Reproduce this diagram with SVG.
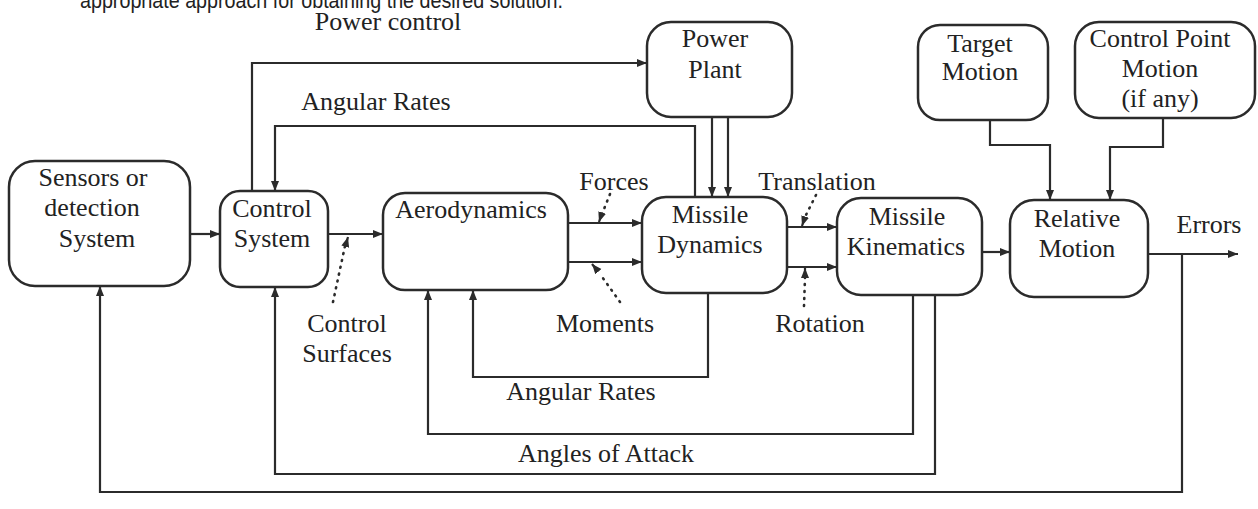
<svg xmlns="http://www.w3.org/2000/svg" width="1258" height="509" viewBox="0 0 1258 509">
<style>
.box{fill:none;stroke:#2b2b2b;stroke-width:2.5}
.ln{fill:none;stroke:#2b2b2b;stroke-width:2.2}
.dot{fill:none;stroke:#2b2b2b;stroke-width:2.6;stroke-dasharray:1 6;stroke-linecap:round}
text{font-family:"Liberation Serif","Times New Roman",serif;font-size:26px;fill:#222;text-anchor:middle}
.top{font-family:"Liberation Sans",Arial,sans-serif;font-size:22px;text-anchor:start}
</style>
<defs>
<marker id="ah" viewBox="0 0 10 10" refX="10" refY="5" markerWidth="10" markerHeight="10" markerUnits="userSpaceOnUse" orient="auto">
<path d="M0,1 L10,5 L0,9 z" fill="#2b2b2b"/>
</marker>
</defs>
<rect width="1258" height="509" fill="#fff"/>
<text class="top" x="80" y="8" textLength="483" lengthAdjust="spacingAndGlyphs">appropriate approach for obtaining the desired solution.</text>

<g id="sensors"><rect class="box" x="9" y="161" width="181" height="125" rx="26"/>
<text x="93" y="186">Sensors or</text><text x="92" y="216">detection</text><text x="97" y="247">System</text></g>
<g id="control"><rect class="box" x="220" y="191" width="108" height="96" rx="20"/>
<text x="272" y="217">Control</text><text x="272" y="247">System</text></g>
<g id="aero"><rect class="box" x="383" y="193" width="185" height="97" rx="22"/>
<text x="471" y="218">Aerodynamics</text></g>
<g id="dynamics"><rect class="box" x="642" y="197" width="145" height="96" rx="24"/>
<text x="710" y="223">Missile</text><text x="710" y="253">Dynamics</text></g>
<g id="kinematics"><rect class="box" x="837" y="198" width="145" height="97" rx="24"/>
<text x="907" y="225">Missile</text><text x="906" y="255">Kinematics</text></g>
<g id="relative"><rect class="box" x="1010" y="200" width="138" height="97" rx="24"/>
<text x="1077" y="227">Relative</text><text x="1077" y="257">Motion</text></g>
<g id="powerplant"><rect class="box" x="647" y="22" width="145" height="95" rx="24"/>
<text x="715" y="47">Power</text><text x="715" y="78">Plant</text></g>
<g id="target"><rect class="box" x="918" y="25" width="130" height="95" rx="22"/>
<text x="980" y="52">Target</text><text x="980" y="80">Motion</text></g>
<g id="controlpoint"><rect class="box" x="1075" y="22" width="180" height="96" rx="24"/>
<text x="1160" y="47">Control Point</text><text x="1160" y="77">Motion</text><text x="1160" y="107">(if any)</text></g>

<g id="connectors">
<path class="ln" d="M190,234 H220" marker-end="url(#ah)"/>
<path class="ln" d="M328,234 H383" marker-end="url(#ah)"/>
<path class="ln" d="M568,223 H642" marker-end="url(#ah)"/>
<path class="ln" d="M568,262 H642" marker-end="url(#ah)"/>
<path class="ln" d="M787,227 H837" marker-end="url(#ah)"/>
<path class="ln" d="M787,267 H837" marker-end="url(#ah)"/>
<path class="ln" d="M982,252 H1010" marker-end="url(#ah)"/>
<path class="ln" d="M1148,254 H1238" marker-end="url(#ah)"/>
<path class="ln" d="M252,191 V63 H647" marker-end="url(#ah)"/>
<path class="ln" d="M695,197 V126 H275 V191" marker-end="url(#ah)"/>
<path class="ln" d="M712,117 V197" marker-end="url(#ah)"/>
<path class="ln" d="M728,117 V197" marker-end="url(#ah)"/>
<path class="ln" d="M990,120 V145 H1050 V200" marker-end="url(#ah)"/>
<path class="ln" d="M1163,118 V147 H1110 V200" marker-end="url(#ah)"/>
<path class="ln" d="M708,293 V377 H473 V290" marker-end="url(#ah)"/>
<path class="ln" d="M913,295 V434 H428 V290" marker-end="url(#ah)"/>
<path class="ln" d="M935,295 V474 H275 V287" marker-end="url(#ah)"/>
<path class="ln" d="M1182,254 V492 H100 V286" marker-end="url(#ah)"/>
<path class="dot" d="M333,302 L345,246"/>
<path class="ln" d="M346,244 L348,237" marker-end="url(#ah)"/>
<path class="dot" d="M610,194 L602,214"/>
<path class="ln" d="M601,216 L599,222" marker-end="url(#ah)"/>
<path class="dot" d="M620,302 L600,274"/>
<path class="ln" d="M597,270 L592,264" marker-end="url(#ah)"/>
<path class="dot" d="M816,195 L805,217"/>
<path class="ln" d="M804,220 L802,226" marker-end="url(#ah)"/>
<path class="dot" d="M804,306 L805,278"/>
<path class="ln" d="M805,275 L805,268" marker-end="url(#ah)"/>
</g>

<g id="labels">
<text x="388" y="30">Power control</text>
<text x="376" y="110">Angular Rates</text>
<text x="614" y="190">Forces</text>
<text x="817" y="190">Translation</text>
<text x="347" y="332">Control</text>
<text x="347" y="362">Surfaces</text>
<text x="605" y="332">Moments</text>
<text x="820" y="332">Rotation</text>
<text x="581" y="400">Angular Rates</text>
<text x="606" y="462">Angles of Attack</text>
<text x="1209" y="233">Errors</text>
</g>
</svg>
